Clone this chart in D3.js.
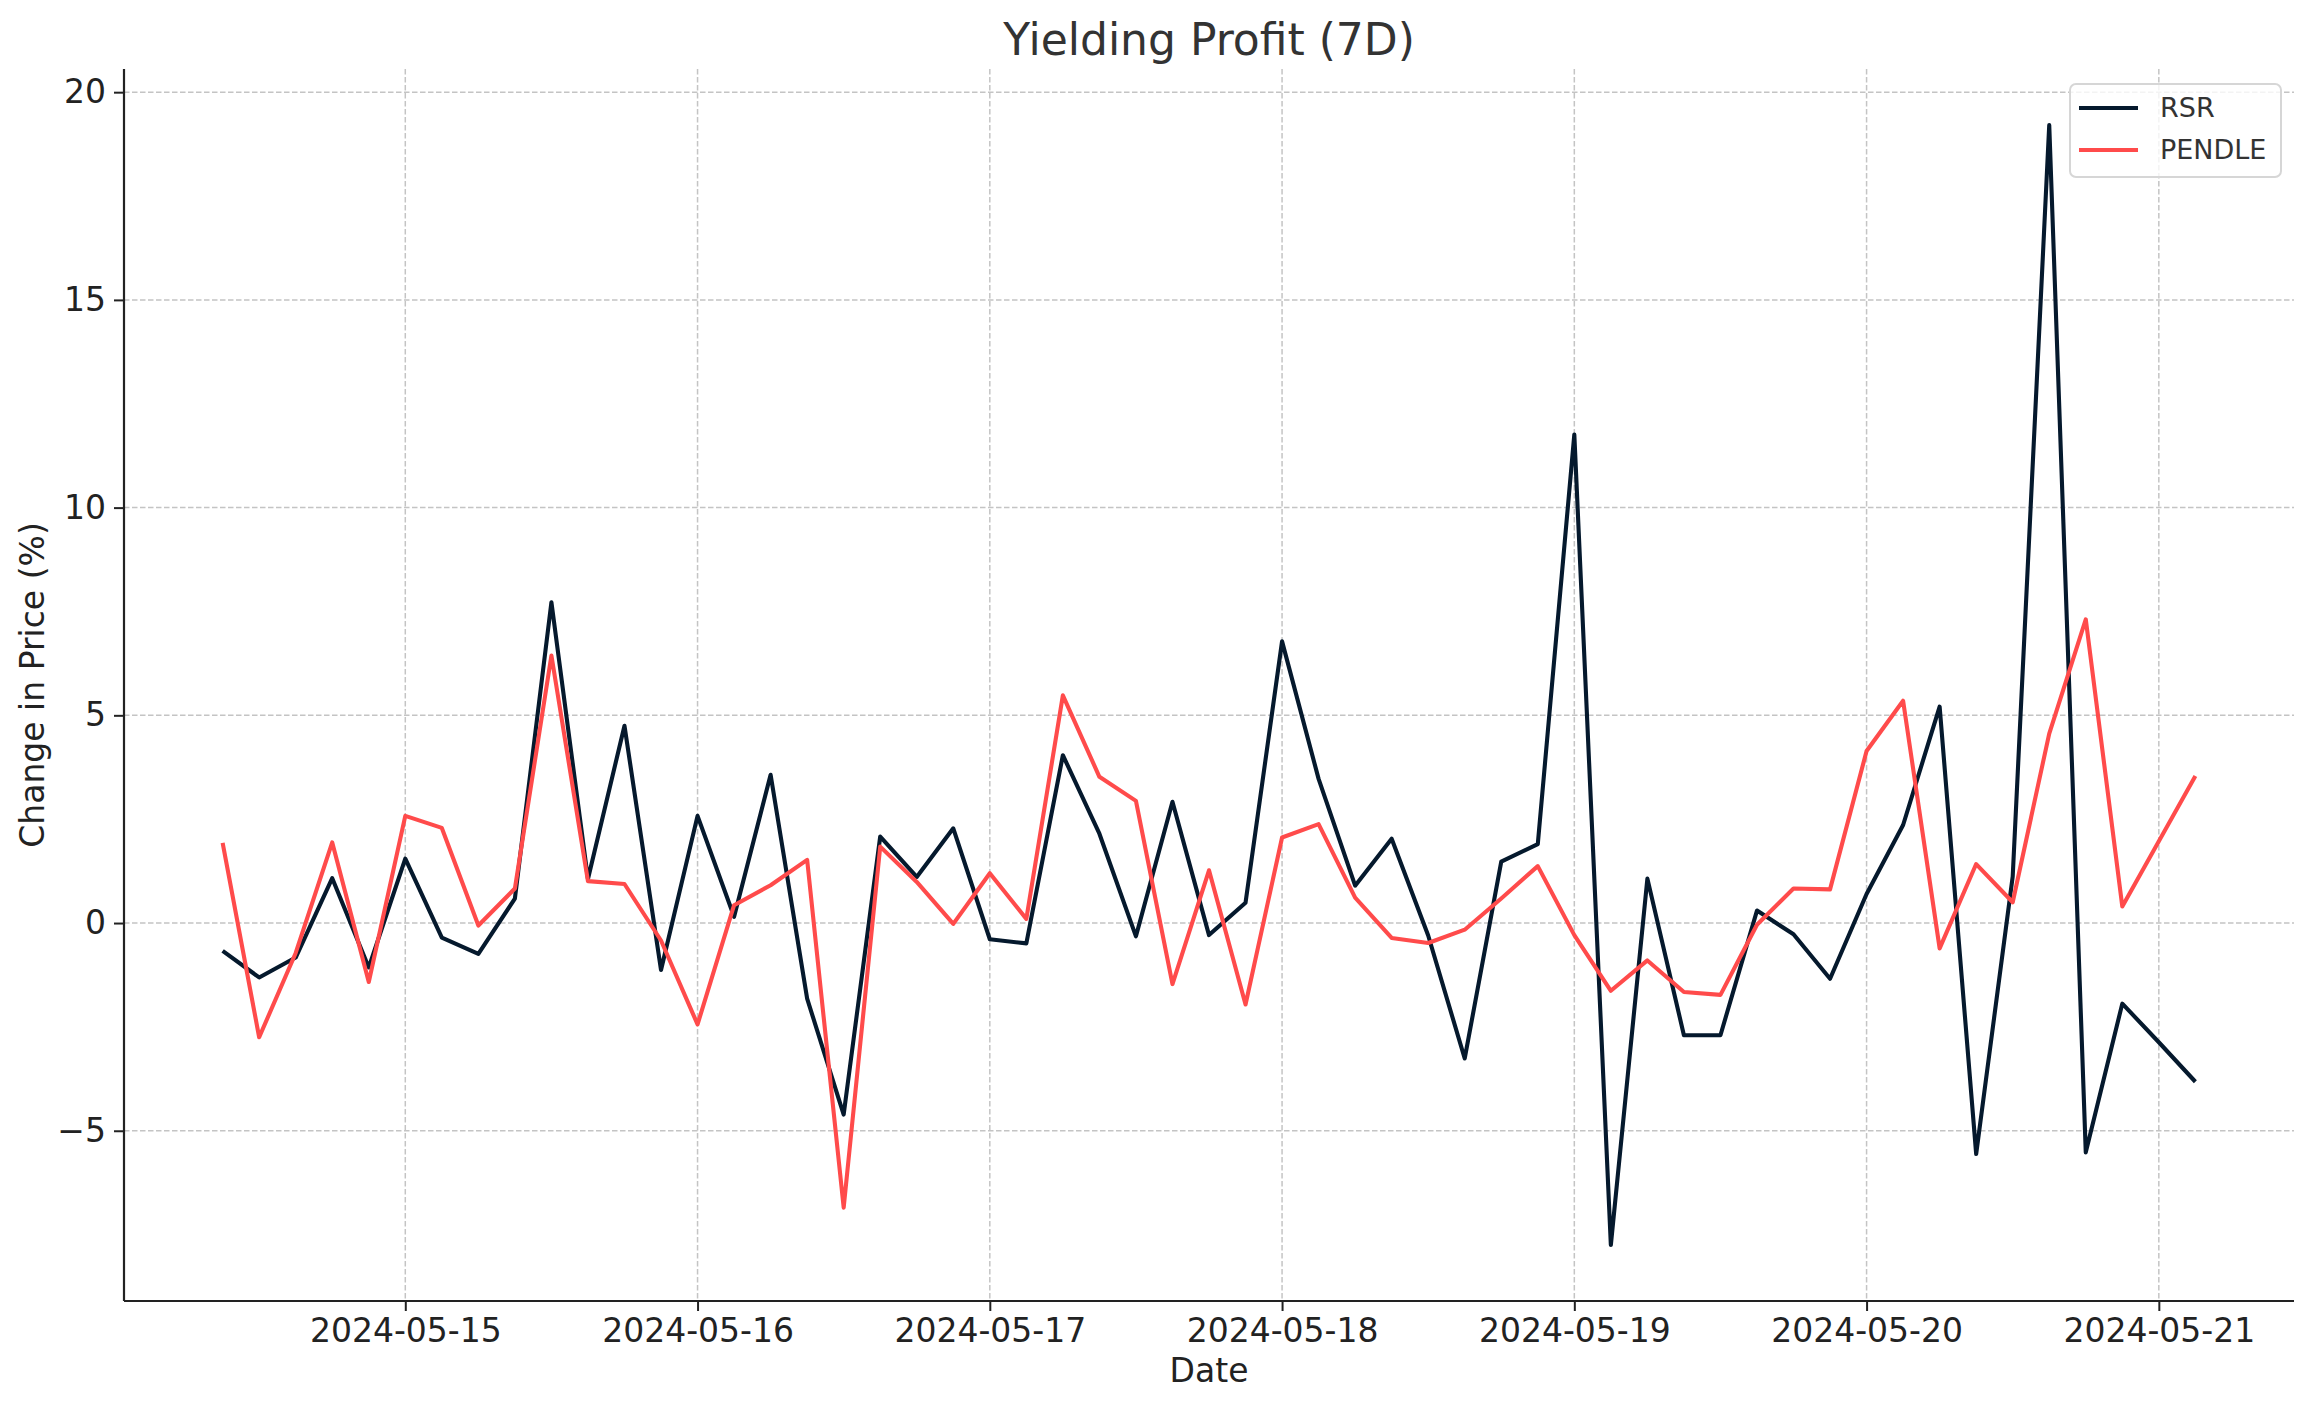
<!DOCTYPE html>
<meta charset="utf-8">
<style>
  body { margin: 0; background: #fff; }
  text { font-family: "DejaVu Sans", sans-serif; }
</style>
<script src="https://d3js.org/d3.v7.min.js"></script>
<body>
<script>

// 3-hourly points, 2024-05-14 09:00 to 2024-05-21 03:00
var startTime = "2024-05-14T09:00";
var stepHours = 3;

var rsrValues = [
  -0.67, -1.31, -0.83, 1.08, -1.07, 1.55, -0.35, -0.74, 0.59, 7.72,
  1.06, 4.75, -1.13, 2.58, 0.15, 3.57, -1.82, -4.61, 2.08, 1.11,
  2.28, -0.39, -0.49, 4.04, 2.15, -0.32, 2.92, -0.29, 0.49, 6.78,
  3.47, 0.90, 2.03, -0.30, -3.26, 1.48, 1.90, 11.76, -7.75, 1.07,
  -2.70, -2.70, 0.30, -0.27, -1.34, 0.70, 2.36, 5.21, -5.56, 1.12,
  19.21, -5.52, -1.94, -2.87, -3.82
];

var pendleValues = [
  1.93, -2.75, -0.72, 1.94, -1.42, 2.58, 2.29, -0.06, 0.83, 6.44,
  1.01, 0.94, -0.42, -2.44, 0.43, 0.91, 1.52, -6.85, 1.84, 0.99,
  -0.02, 1.20, 0.10, 5.48, 3.52, 2.94, -1.47, 1.27, -1.96, 2.06,
  2.38, 0.61, -0.36, -0.48, -0.16, 0.59, 1.37, -0.29, -1.63, -0.90,
  -1.66, -1.73, -0.04, 0.83, 0.81, 4.14, 5.35, -0.61, 1.42, 0.50,
  4.56, 7.31, 0.40, 1.97, 3.54
];

var seriesNames = ["RSR", "PENDLE"];
var seriesColors = ["#05192d", "#ff4b4b"];
var yTickValues = [-5, 0, 5, 10, 15, 20];

var W = 2313, H = 1409;
var margin = {top: 69, right: 19, bottom: 108, left: 124};
var width = W - margin.left - margin.right;
var height = H - margin.top - margin.bottom;

var t0 = d3.utcParse("%Y-%m-%dT%H:%M")(startTime);
var dates = rsrValues.map(function(d, i) { return d3.utcHour.offset(t0, stepHours * i); });

var series = [
  { key: seriesNames[0], color: seriesColors[0], values: rsrValues },
  { key: seriesNames[1], color: seriesColors[1], values: pendleValues }
];

var svg = d3.select("body").append("svg")
    .attr("width", W)
    .attr("height", H);

var g = svg.append("g")
    .attr("transform", "translate(" + margin.left + "," + margin.top + ")");

var xExt = d3.extent(dates);
var xPad = (xExt[1] - xExt[0]) * 0.05;
var x = d3.scaleUtc()
    .domain([new Date(+xExt[0] - xPad), new Date(+xExt[1] + xPad)])
    .range([0, width]);

var allVals = rsrValues.concat(pendleValues);
var yMin = d3.min(allVals), yMax = d3.max(allVals);
var yPad = (yMax - yMin) * 0.05;
var y = d3.scaleLinear()
    .domain([yMin - yPad, yMax + yPad])
    .range([height, 0]);

var xTicks = d3.utcDay.range(d3.utcDay.ceil(x.domain()[0]), x.domain()[1]);

// grid
g.append("g").selectAll("line")
  .data(xTicks)
  .enter().append("line")
    .attr("x1", function(d) { return x(d); })
    .attr("x2", function(d) { return x(d); })
    .attr("y1", 0)
    .attr("y2", height)
    .style("stroke", "#c4c4c4")
    .style("stroke-width", 1.5)
    .style("stroke-dasharray", "5.5,2.5");

g.append("g").selectAll("line")
  .data(yTickValues)
  .enter().append("line")
    .attr("x1", 0)
    .attr("x2", width)
    .attr("y1", function(d) { return y(d); })
    .attr("y2", function(d) { return y(d); })
    .style("stroke", "#c4c4c4")
    .style("stroke-width", 1.5)
    .style("stroke-dasharray", "5.5,2.5");

var line = d3.line()
    .x(function(d, i) { return x(dates[i]); })
    .y(function(d) { return y(d); });

g.selectAll(".series")
  .data(series)
  .enter().append("path")
    .attr("class", "series")
    .attr("d", function(d) { return line(d.values); })
    .style("fill", "none")
    .style("stroke", function(d) { return d.color; })
    .style("stroke-width", 4.1)
    .style("stroke-linejoin", "round");

var xAxis = d3.axisBottom(x)
    .tickValues(xTicks)
    .tickFormat(d3.utcFormat("%Y-%m-%d"))
    .tickSizeOuter(0)
    .tickSize(10)
    .tickPadding(8);

var yAxis = d3.axisLeft(y)
    .tickValues(yTickValues)
    .tickFormat(function(d) { return d < 0 ? "\u2212" + Math.abs(d) : d; })
    .tickSizeOuter(0)
    .tickSize(10)
    .tickPadding(8);

var gx = g.append("g")
    .attr("transform", "translate(0," + height + ")")
    .call(xAxis);
gx.select(".domain").remove();
gx.selectAll("line").style("stroke", "#222").style("stroke-width", 2);
gx.selectAll("text")
    .style("font-size", "33px")
    .style("fill", "#222")
    .attr("font-family", "DejaVu Sans");

var gy = g.append("g").call(yAxis);
gy.select(".domain").remove();
gy.selectAll("line").style("stroke", "#222").style("stroke-width", 2);
gy.selectAll("text")
    .style("font-size", "33px")
    .style("fill", "#222")
    .attr("font-family", "DejaVu Sans");

// spines
g.append("line")
    .attr("x1", 0).attr("x2", 0).attr("y1", 0).attr("y2", height)
    .style("stroke", "#222").style("stroke-width", 2.2);
g.append("line")
    .attr("x1", 0).attr("x2", width).attr("y1", height).attr("y2", height)
    .style("stroke", "#222").style("stroke-width", 2.2);

svg.append("text")
    .attr("x", margin.left + width / 2)
    .attr("y", 55)
    .attr("text-anchor", "middle")
    .style("font-size", "44px")
    .style("fill", "#333")
    .text("Yielding Profit (7D)");

svg.append("text")
    .attr("x", margin.left + width / 2)
    .attr("y", 1382)
    .attr("text-anchor", "middle")
    .style("font-size", "33px")
    .style("fill", "#222")
    .text("Date");

svg.append("text")
    .attr("transform", "translate(44," + (margin.top + height / 2) + ") rotate(-90)")
    .attr("text-anchor", "middle")
    .style("font-size", "33px")
    .style("fill", "#222")
    .text("Change in Price (%)");

// legend
var legend = svg.append("g")
    .attr("transform", "translate(2070,84)");

legend.append("rect")
    .attr("width", 211)
    .attr("height", 93)
    .attr("rx", 6)
    .style("fill", "rgba(255,255,255,0.8)")
    .style("stroke", "#d6d6d6")
    .style("stroke-width", 2);

var item = legend.selectAll(".item")
  .data(series)
  .enter().append("g")
    .attr("class", "item")
    .attr("transform", function(d, i) { return "translate(0," + (24 + i * 42) + ")"; });

item.append("line")
    .attr("x1", 9).attr("x2", 68)
    .style("stroke", function(d) { return d.color; })
    .style("stroke-width", 4.1);

item.append("text")
    .attr("x", 90)
    .attr("dy", "0.35em")
    .style("font-size", "27px")
    .style("fill", "#333")
    .text(function(d) { return d.key; });

</script>
